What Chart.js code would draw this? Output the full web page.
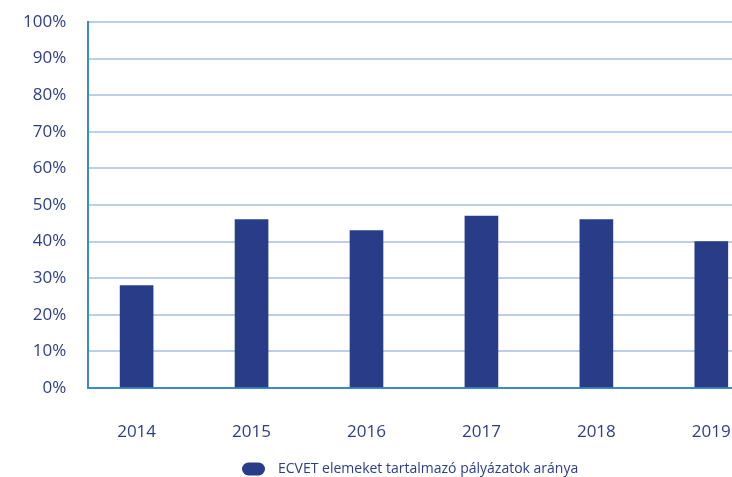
<!DOCTYPE html>
<html>
<head>
<meta charset="utf-8">
<script src="https://cdn.jsdelivr.net/npm/chart.js@4/dist/chart.umd.min.js"></script>
<style>
html,body{margin:0;padding:0;background:#fff;overflow:hidden;}
#wrap{width:732px;height:477px;position:relative;}
</style>
</head>
<body>
<div id="wrap"><canvas id="c"></canvas></div>
<script>
const years = ['2014','2015','2016','2017','2018','2019'];
const shares = [28, 46, 43, 47, 46, 40];
const seriesLabel = 'ECVET elemeket tartalmazó pályázatok aránya';
const yTicks = [0,10,20,30,40,50,60,70,80,90,100];

const barColor = '#293c87';
const textColor = '#2e3d87';
const axisColor = '#3a8cc0';
const gridColor = '#bccfe6';
const font = '"Open Sans", "Noto Sans", sans-serif';

// legend pill marker
const mk = document.createElement('canvas');
mk.width = 29; mk.height = 14;
(function(){
  const g = mk.getContext('2d');
  g.fillStyle = barColor;
  g.beginPath();
  g.roundRect(0, 0.5, 23, 13, 6.5);
  g.fill();
})();

const data = years.map((y,i)=>({x:Number(y), y:shares[i]}));

new Chart(document.getElementById('c'), {
  type: 'bar',
  data: {
    datasets: [{
      label: seriesLabel,
      data: data,
      backgroundColor: barColor,
      borderWidth: 0,
      barThickness: 33,
      pointStyle: mk
    }]
  },
  options: {
    responsive: true,
    maintainAspectRatio: false,
    animation: false,
    layout: { padding: { left: 1, right: 0, top: 22, bottom: -9 } },
    plugins: {
      tooltip: { enabled: false },
      legend: {
        position: 'bottom',
        fullSize: false,
        padding: 0,
        labels: {
          usePointStyle: true,
          pointStyleWidth: 29,
          color: textColor,
          font: { family: font, size: 14 },
          padding: 0
        }
      }
    },
    scales: {
      x: {
        type: 'linear',
        offset: false,
        min: 2013.579,
        max: 2019.18,
        grid: { display: false, drawTicks: false },
        border: { display: true, color: axisColor, width: 2 },
        afterBuildTicks: s => { s.ticks = years.map(v => ({ value: Number(v) })); },
        afterFit: s => { s.paddingLeft = 0; s.paddingRight = 0; s.height = 74; },
        ticks: {
          color: textColor,
          font: { family: font, size: 17 },
          padding: 34,
          maxRotation: 0,
          callback: v => String(v)
        }
      },
      y: {
        min: 0,
        max: 100,
        afterBuildTicks: s => { s.ticks = yTicks.map(v => ({ value: v })); },
        afterFit: s => { s.paddingTop = 0; s.paddingBottom = 0; },
        grid: { color: gridColor, lineWidth: 2, drawTicks: false },
        border: { display: true, color: axisColor, width: 2 },
        ticks: {
          color: textColor,
          font: { family: font, size: 17 },
          padding: 22,
          callback: v => v + '%'
        }
      }
    }
  }
});
</script>
</body>
</html>
